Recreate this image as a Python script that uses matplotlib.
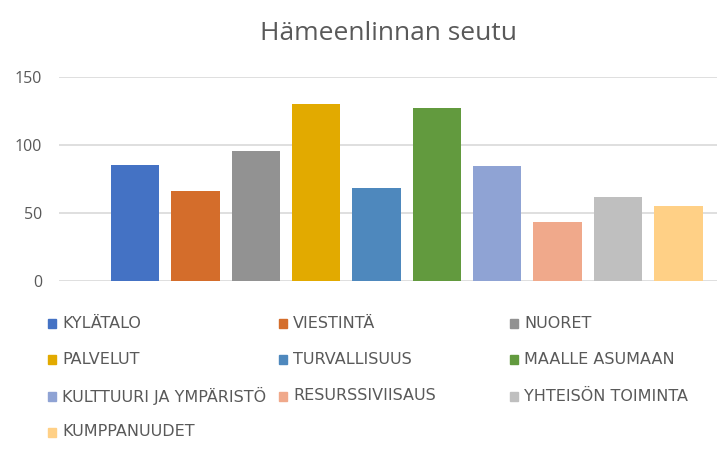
import matplotlib
matplotlib.use("Agg")
import matplotlib.pyplot as plt
from matplotlib.patches import Rectangle

categories = ["KYLÄTALO", "VIESTINTÄ", "NUORET", "PALVELUT", "TURVALLISUUS",
              "MAALLE ASUMAAN", "KULTTUURI JA YMPÄRISTÖ", "RESURSSIVIISAUS",
              "YHTEISÖN TOIMINTA", "KUMPPANUUDET"]
values = [85, 66, 95, 130, 68, 127, 84, 43, 61.5, 55]
colors = ["#4472C4", "#D46D2B", "#929292", "#E2AA00", "#4E88BD",
          "#629A3E", "#8FA3D4", "#F0A98B", "#BFBFBF", "#FFD086"]
yticks = [0, 50, 100, 150]

W, H = 717, 455
fig = plt.figure(figsize=(W / 100, H / 100), dpi=100)

# plot area in pixels
left, right, top, bottom = 59, 717, 76.7, 280.7
ax = fig.add_axes([left / W, 1 - bottom / H, (right - left) / W, (bottom - top) / H])

x = list(range(len(values)))
ax.bar(x, values, width=0.8, color=colors, zorder=2)
ax.set_xlim(-1.26, 9.64)
ax.set_ylim(0, 150)
ax.set_yticks(yticks)
ax.set_yticklabels([str(t) for t in yticks], fontsize=11.5, color="#595959",
                   family="Open Sans")
ax.set_xticks([])
ax.tick_params(axis="y", length=0, pad=12)
ax.yaxis.grid(True, color="#D9D9D9", linewidth=1.2, zorder=0)
for s in ax.spines.values():
    s.set_visible(False)

fig.text(389 / W, 1 - 33 / H, "Hämeenlinnan seutu", ha="center", va="center",
         fontsize=19, color="#595959", family="Open Sans")

# legend, filled row by row like Excel
col_x = [48, 279, 510]
row_y = [323, 359, 396, 432]
for i, (lab, c) in enumerate(zip(categories, colors)):
    r, k = divmod(i, 3)
    px, py = col_x[k], row_y[r]
    fig.patches.append(Rectangle((px / W, 1 - (py + 4.5) / H), 8 / W, 9 / H,
                                 transform=fig.transFigure, color=c))
    fig.text((px + 14) / W, 1 - py / H, lab, ha="left", va="center",
             fontsize=11.5, color="#595959", family="DejaVu Sans")

fig.savefig("out.png", dpi=100)
